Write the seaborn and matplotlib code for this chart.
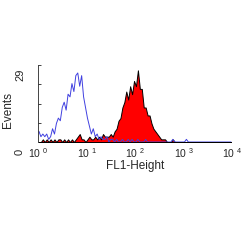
import numpy as np
import pandas as pd
import matplotlib
matplotlib.use('Agg')
import matplotlib.pyplot as plt
import seaborn as sns

# channel scale: 100 channels over 4 decades (log10 units)
n_channels = 100
edges = np.linspace(0, 4, n_channels + 1)
centers = (edges[:-1] + edges[1:]) / 2

# control (blue outline), counts per channel
blue = [4, 2, 3, 2, 3, 1, 2, 5, 3, 7, 9, 8, 13, 15, 12, 18, 17, 22, 19, 25,
        26, 21, 25, 17, 13, 9, 6, 3, 5, 2, 3, 1, 2, 1, 1, 2, 0, 1, 1, 0,
        1, 0, 0, 1, 0, 0, 1, 0, 1, 0, 0, 1, 0, 0, 0, 1, 0, 0, 0, 0,
        0, 0, 0, 0, 0, 0, 0, 0, 0, 1, 0, 0, 0, 0, 0, 0, 1, 0, 0, 0,
        0, 0, 0, 0, 0, 0, 0, 0, 0, 0, 0, 0, 0, 0, 0, 0, 0, 0, 0, 0]

# stained sample (red filled), counts per channel
red = [0, 0, 1, 0, 1, 0, 1, 0, 1, 0, 1, 1, 0, 1, 0, 1, 0, 1, 0, 1,
       2, 3, 1, 1, 0, 1, 2, 1, 1, 2, 1, 2, 1, 3, 2, 2, 2, 3, 2, 4,
       5, 8, 9, 13, 15, 19, 16, 21, 18, 23, 21, 27, 20, 20, 13, 13, 10, 10, 7, 5,
       4, 3, 2, 1, 1, 1, 0, 0, 0, 1, 0, 0, 0, 0, 0, 0, 0, 0, 0, 0,
       0, 0, 0, 0, 0, 0, 0, 0, 0, 0, 0, 0, 0, 0, 0, 0, 0, 0, 0, 0]

y_max = 29
decades = [0, 1, 2, 3, 4]

df = pd.DataFrame({'fl1': centers, 'blue': blue, 'red': red})

sns.set_style('ticks')
plt.rcParams['font.family'] = ['Liberation Sans', 'DejaVu Sans']

fig = plt.figure(figsize=(2.5, 2.5), dpi=100)
ax = fig.add_axes([0.152, 0.432, 0.776, 0.308])

sns.histplot(data=df, x='fl1', weights='red', bins=n_channels, binrange=(0, 4),
             element='poly', fill=True, color='#ff0000', alpha=1,
             edgecolor='black', linewidth=0.7, ax=ax)
sns.histplot(data=df, x='fl1', weights='blue', bins=n_channels, binrange=(0, 4),
             element='poly', fill=False, color='#4040e0', linewidth=0.7, ax=ax)

ax.set_xlim(0, 4)
ax.set_ylim(0, y_max)
ax.set_xticks(decades)
ax.set_xticklabels([r'$\mathregular{10^{\ %d}}$' % d for d in decades], fontsize=7.5)
ax.tick_params(axis='x', length=0, pad=3)
ax.set_yticks(np.linspace(0, y_max, 5))
ax.set_yticklabels([])
ax.tick_params(axis='y', direction='in', length=2, width=0.6)
ax.set_xlabel('FL1-Height', fontsize=8.5, labelpad=0)
ax.set_ylabel('')
for s in ['top', 'right', 'bottom']:
    ax.spines[s].set_visible(False)
ax.spines['left'].set_linewidth(0.6)

fig.text(0.08, 1 - 152 / 250, '0', rotation=90, fontsize=8, ha='center', va='center')
fig.text(0.08, 1 - 75 / 250, str(y_max), rotation=90, fontsize=8, ha='center', va='center')
fig.text(0.032, 1 - 110 / 250, 'Events', rotation=90, fontsize=8.5, ha='center', va='center')

fig.savefig('out.png', dpi=100)
